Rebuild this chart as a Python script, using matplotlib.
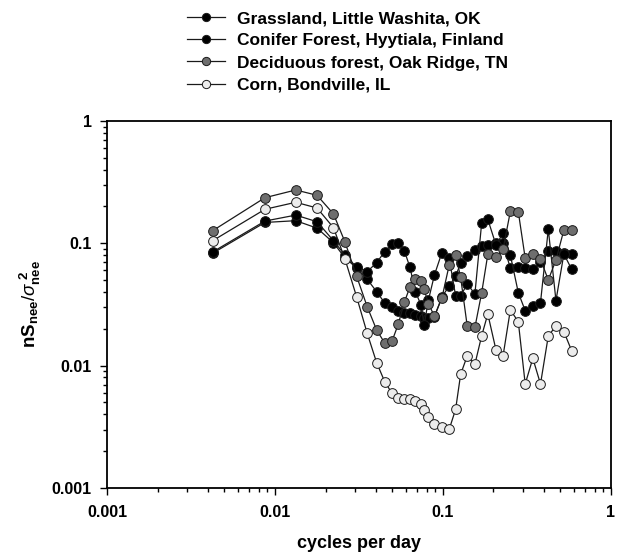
import matplotlib
matplotlib.use("Agg")
import matplotlib.pyplot as plt
from matplotlib.ticker import LogLocator, FixedLocator, NullFormatter

plt.rcParams['font.family'] = ['Liberation Sans', 'DejaVu Sans']
plt.rcParams['mathtext.fontset'] = 'custom'
plt.rcParams['mathtext.rm'] = 'Liberation Sans'
plt.rcParams['mathtext.bf'] = 'Liberation Sans:bold'
plt.rcParams['mathtext.it'] = 'Liberation Sans:italic'

# frequencies (cycles per day), shared by all sites
freq = [0.00426, 0.00872, 0.0133, 0.0178, 0.0223, 0.0261, 0.0306, 0.0354,
        0.0403, 0.0450, 0.0497, 0.0542, 0.0589, 0.0636, 0.0686, 0.0740,
        0.0773, 0.0820, 0.0890, 0.0986, 0.109, 0.119, 0.1275, 0.1395,
        0.155, 0.170, 0.185, 0.207, 0.228, 0.252, 0.281, 0.309, 0.343,
        0.381, 0.424, 0.471, 0.525, 0.584]

grassland = [0.083, 0.148, 0.153, 0.133, 0.101, 0.076, 0.063, 0.0508,
             0.0402, 0.0325, 0.0300, 0.0281, 0.0271, 0.0268, 0.0259, 0.0253,
             0.0245, 0.0244, 0.0251, 0.0364, 0.0448, 0.0540, 0.0686, 0.0787,
             0.0881, 0.0950, 0.0969, 0.1006, 0.1006, 0.0625, 0.0637, 0.0625,
             0.0613, 0.0703, 0.0870, 0.0870, 0.0833, 0.0818]

conifer = [0.085, 0.152, 0.170, 0.150, 0.105, 0.080, 0.064, 0.0586,
           0.0694, 0.0854, 0.0987, 0.101, 0.087, 0.0637, 0.0402, 0.0313,
           0.0215, 0.0344, 0.0551, 0.0838, 0.0754, 0.0371, 0.0371, 0.0465,
           0.0385, 0.1457, 0.1571, 0.0969, 0.1207, 0.0802, 0.0395, 0.0281,
           0.0307, 0.0327, 0.1301, 0.0340, 0.0818, 0.0613]

deciduous = [0.1268, 0.236, 0.2728, 0.2468, 0.1737, 0.1025, 0.054, 0.0303,
             0.01954, 0.0153, 0.01574, 0.02181, 0.0329, 0.0439, 0.0508, 0.0494,
             0.0419, 0.0321, 0.0253, 0.0357, 0.0665, 0.0807, 0.0525, 0.0211,
             0.0205, 0.0392, 0.081, 0.0768, 0.0893, 0.182, 0.1813, 0.0754,
             0.0821, 0.074, 0.0501, 0.073, 0.1285, 0.1273]

corn = [0.105, 0.1897, 0.2164, 0.1943, 0.1341, 0.0744, 0.0366, 0.01837,
        0.01056, 0.00739, 0.00594, 0.0054, 0.0053, 0.0053, 0.00516, 0.00485,
        0.00434, 0.00378, 0.00331, 0.00317, 0.00301, 0.00439, 0.00849, 0.01198,
        0.01025, 0.01746, 0.02642, 0.01341, 0.01198, 0.02849, 0.02285, 0.00707,
        0.01147, 0.00707, 0.01746, 0.02108, 0.01893, 0.01323]

labels = ['Grassland, Little Washita, OK', 'Conifer Forest, Hyytiala, Finland',
          'Deciduous forest, Oak Ridge, TN', 'Corn, Bondville, IL']
faces = ['#000000', '#000000', '#6e6e6e', '#ececec']

fig = plt.figure(figsize=(6.41, 5.55), dpi=100)
ax = fig.add_axes([0.167, 0.121, 0.786, 0.661])

handles = []
for vals, fc, lab in zip([grassland, conifer, deciduous, corn], faces, labels):
    h, = ax.plot(freq, vals, '-o', color='#1a1a1a', lw=0.9, ms=7.0,
                 mfc=fc, mec='#1a1a1a', mew=0.7, label=lab)
    handles.append(h)

ax.set_xscale('log')
ax.set_yscale('log')
ax.set_xlim(0.001, 1)
ax.set_ylim(0.001, 1)

ax.xaxis.set_major_locator(FixedLocator([0.001, 0.01, 0.1, 1]))
ax.yaxis.set_major_locator(FixedLocator([0.001, 0.01, 0.1, 1]))
ax.set_xticklabels(['0.001', '0.01', '0.1', '1'], fontweight='bold', fontsize=11.5)
ax.set_yticklabels(['0.001', '0.01', '0.1', '1'], fontweight='bold', fontsize=11.5)
ax.xaxis.set_minor_locator(LogLocator(base=10, subs=range(2, 10)))
ax.yaxis.set_minor_locator(LogLocator(base=10, subs=range(2, 10)))
ax.xaxis.set_minor_formatter(NullFormatter())
ax.yaxis.set_minor_formatter(NullFormatter())
ax.tick_params(which='major', direction='out', length=5, width=1)
ax.tick_params(axis='x', which='major', pad=7)
ax.tick_params(axis='y', which='major', pad=6)
ax.tick_params(which='minor', direction='out', length=3, width=1)
for s in ax.spines.values():
    s.set_linewidth(1.3)

ax.set_xlabel('cycles per day', fontweight='bold', fontsize=13, labelpad=11)
ax.set_ylabel(r'$\mathbf{nS}_{\mathbf{nee}}/\sigma_{\mathbf{nee}}^{\ \mathbf{2}}$',
              fontsize=13.5, labelpad=6)

fig.legend(handles=handles, loc='upper left', bbox_to_anchor=(0.267, 1.008),
           frameon=False, handlelength=2.2, handletextpad=0.7, markerscale=0.85,
           labelspacing=0.4, prop={'weight': 'bold', 'size': 12.5})

fig.savefig('out.png', dpi=100)
